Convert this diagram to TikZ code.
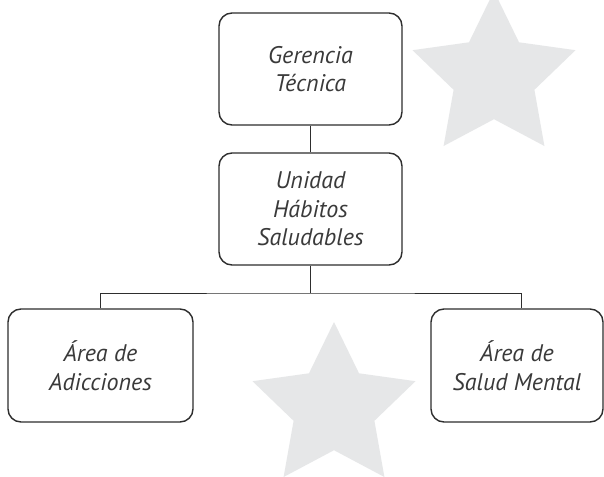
\documentclass[tikz,border=0pt]{standalone}
\usepackage{fontspec}
\setmainfont{PT Sans}
\definecolor{starfill}{HTML}{E6E7E8}
\definecolor{ink}{HTML}{2E2E2E}
\definecolor{txt}{HTML}{3A3A3A}
\tikzset{
  orgbox/.style={draw=ink, line width=1.4pt, rounded corners=13pt, align=center,
    text=txt, font=\fontsize{24}{28.5}\selectfont\itshape, inner sep=0pt},
  link/.style={draw=ink, line width=1pt},
  bgstar/.pic={\fill[starfill] (0,-85.7) -- (25,-34.4) -- (81.5,-26.5) -- (40.4,13.1) -- (50.4,69.3) -- (0,42.5) -- (-50.4,69.3) -- (-40.4,13.1) -- (-81.5,-26.5) -- (-25,-34.4) -- cycle;}
}
\begin{document}
\begin{tikzpicture}[x=1pt,y=-1pt]
\clip (0,0) rectangle (604,476);
\fill[white] (0,0) rectangle (604,476);
\pic at (494,76.7) {bgstar};
\pic at (334,407.7) {bgstar};
\node[orgbox, minimum width=183pt, minimum height=112pt] (top) at (310.5,69) {Gerencia\\Técnica};
\node[orgbox, minimum width=183pt, minimum height=112pt] (mid) at (310.5,209) {Unidad\\Hábitos\\Saludables};
\node[orgbox, minimum width=185pt, minimum height=113pt] (left) at (100.5,365.5) {Área de\\Adicciones};
\node[orgbox, minimum width=172pt, minimum height=113pt] (right) at (517,365.5) {Área de\\Salud Mental};
\coordinate (bar) at (310.5,293);
\coordinate (rtop) at ([xshift=4pt]right.north);
\draw[link] (top.south) -- (mid.north);
\draw[link] (mid.south) -- (bar);
\draw[link] (left.north) |- (bar) -| (rtop);
\end{tikzpicture}
\end{document}
